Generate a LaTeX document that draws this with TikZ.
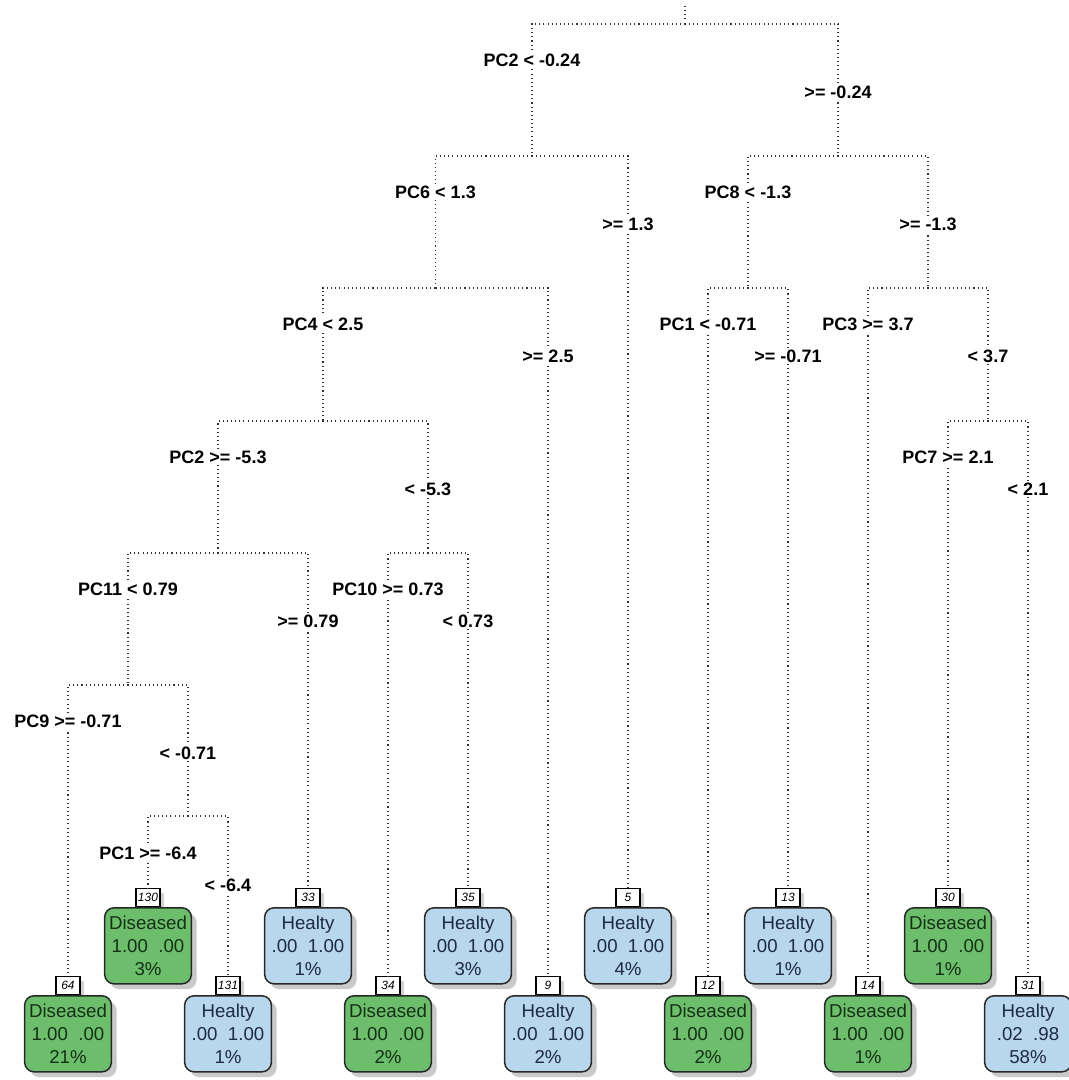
\documentclass[tikz,border=0pt]{standalone}
\usepackage{xcolor}
\usepackage{fontspec}
\setmainfont{Liberation Sans}
\usetikzlibrary{shadows}

\definecolor{sick}{RGB}{108,190,108}
\definecolor{well}{RGB}{184,215,236}
\definecolor{sicktext}{RGB}{22,48,22}
\definecolor{welltext}{RGB}{30,42,70}

\tikzset{
  branch/.style={draw=black!80,line width=1pt,dash pattern=on 0.8pt off 2.3pt},
  split/.style={fill=white,inner sep=1.5pt,font=\bfseries\fontsize{13.5}{15}\selectfont},
  leafbox/.style={draw=black!85,line width=1.1pt,rounded corners=7pt,anchor=north,
    minimum width=65pt,minimum height=57pt,inner sep=0pt,align=center,
    font=\fontsize{14}{17}\selectfont,
    drop shadow={shadow xshift=4pt,shadow yshift=-4pt,fill=black!30,opacity=.7}},
  sickleaf/.style={leafbox,fill=sick,text=sicktext},
  wellleaf/.style={leafbox,fill=well,text=welltext},
  tagbox/.style={draw=black,fill=white,line width=.8pt,anchor=north,
    minimum width=18pt,minimum height=13.5pt,inner sep=0pt,
    font=\itshape\fontsize{9}{9}\selectfont,
    drop shadow={shadow xshift=3pt,shadow yshift=-3pt,fill=black!25,opacity=.7}}
}

\begin{document}
\begin{tikzpicture}[x=0.75pt,y=-0.75pt]
\useasboundingbox (0,0) rectangle (1069,1080);

% split points
\coordinate (top) at (685,6);
\coordinate (n1) at (685,24);
\coordinate (n2) at (532,156);
\coordinate (n3) at (838,156);
\coordinate (n4) at (435.5,288);
\coordinate (n6) at (748,288);
\coordinate (n7) at (928,288);
\coordinate (n8) at (323,421);
\coordinate (n15) at (988,421);
\coordinate (n16) at (218,553);
\coordinate (n17) at (428,553);
\coordinate (n32) at (128,685);
\coordinate (n65) at (188,816);

% leaves: id/x/top/class/line2/line3
\foreach \id/\x/\y/\kind/\val/\pct in {
  64/68/976/sick/{1.00\ \ .00}/21,
  130/148/888/sick/{1.00\ \ .00}/3,
  131/228/976/well/{.00\ \ 1.00}/1,
  33/308/888/well/{.00\ \ 1.00}/1,
  34/388/976/sick/{1.00\ \ .00}/2,
  35/468/888/well/{.00\ \ 1.00}/3,
  9/548/976/well/{.00\ \ 1.00}/2,
  5/628/888/well/{.00\ \ 1.00}/4,
  12/708/976/sick/{1.00\ \ .00}/2,
  13/788/888/well/{.00\ \ 1.00}/1,
  14/868/976/sick/{1.00\ \ .00}/1,
  30/948/888/sick/{1.00\ \ .00}/1,
  31/1028/976/well/{.02\ \ .98}/58}{
  \node[tagbox] (t\id) at (\x,\y) {\id};
  \ifnum\pdfstrcmp{\kind}{sick}=0
    \node[sickleaf] (l\id) at (t\id.south) {Diseased\\\val\\\pct\%};
  \else
    \node[wellleaf] (l\id) at (t\id.south) {Healty\\\val\\\pct\%};
  \fi
}

% branches
\draw[branch] (top) -- (n1);
\draw[branch] (n1) -| (n2);
\draw[branch] (n1) -| (n3);
\draw[branch] (n2) -| (n4);
\draw[branch] (n2) -| (t5.north);
\draw[branch] (n3) -| (n6);
\draw[branch] (n3) -| (n7);
\draw[branch] (n4) -| (n8);
\draw[branch] (n4) -| (t9.north);
\draw[branch] (n6) -| (t12.north);
\draw[branch] (n6) -| (t13.north);
\draw[branch] (n7) -| (t14.north);
\draw[branch] (n7) -| (n15);
\draw[branch] (n15) -| (t30.north);
\draw[branch] (n15) -| (t31.north);
\draw[branch] (n8) -| (n16);
\draw[branch] (n8) -| (n17);
\draw[branch] (n16) -| (n32);
\draw[branch] (n16) -| (t33.north);
\draw[branch] (n17) -| (t34.north);
\draw[branch] (n17) -| (t35.north);
\draw[branch] (n32) -| (t64.north);
\draw[branch] (n32) -| (n65);
\draw[branch] (n65) -| (t130.north);
\draw[branch] (n65) -| (t131.north);

% split labels
\node[split] (s1a) at (532,60) {PC2 < -0.24};
\node[split] (s1b) at (838,92) {>= -0.24};
\node[split] (s2a) at (435.5,192) {PC6 < 1.3};
\node[split] (s2b) at (628,224) {>= 1.3};
\node[split] (s3a) at (748,192) {PC8 < -1.3};
\node[split] (s3b) at (928,224) {>= -1.3};
\node[split] (s4a) at (323,324) {PC4 < 2.5};
\node[split] (s4b) at (548,356) {>= 2.5};
\node[split] (s6a) at (708,324) {PC1 < -0.71};
\node[split] (s6b) at (788,356) {>= -0.71};
\node[split] (s7a) at (868,324) {PC3 >= 3.7};
\node[split] (s7b) at (988,356) {< 3.7};
\node[split] (s8a) at (218,457) {PC2 >= -5.3};
\node[split] (s8b) at (428,489) {< -5.3};
\node[split] (s15a) at (948,457) {PC7 >= 2.1};
\node[split] (s15b) at (1028,489) {< 2.1};
\node[split] (s16a) at (128,589) {PC11 < 0.79};
\node[split] (s16b) at (308,621) {>= 0.79};
\node[split] (s17a) at (388,589) {PC10 >= 0.73};
\node[split] (s17b) at (468,621) {< 0.73};
\node[split] (s32a) at (68,721) {PC9 >= -0.71};
\node[split] (s32b) at (188,753) {< -0.71};
\node[split] (s65a) at (148,853) {PC1 >= -6.4};
\node[split] (s65b) at (228,885) {< -6.4};
\end{tikzpicture}
\end{document}
